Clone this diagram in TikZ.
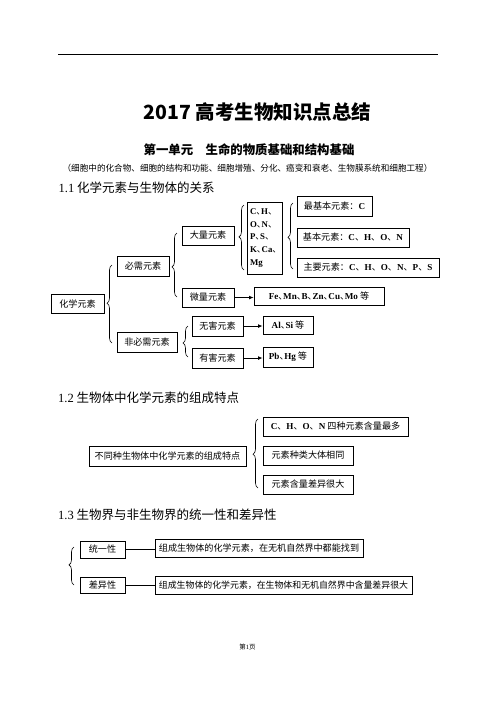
\documentclass[tikz,border=0pt]{standalone}
\usepackage{fontspec}
\setmainfont{Liberation Serif}
\newfontfamily\cjk{Noto Sans CJK SC}
\usetikzlibrary{decorations.pathreplacing,arrows.meta}
\newcommand\en[1]{{\rmfamily\bfseries #1}}
\newcommand\dunhao{\makebox[4.8pt][l]{、}}
\begin{document}
\begin{tikzpicture}[x=1pt,y=-1pt,
  box/.style={draw, line width=0.7pt, inner sep=0pt, font=\cjk\fontsize{9.1}{11}\selectfont},
  plain/.style={inner sep=0pt},
  heading/.style={inner sep=0pt, anchor=west, font=\cjk\fontsize{12.5}{14}\selectfont},
  br/.style={decorate, decoration={brace, amplitude=5pt, aspect=#1}, line width=0.6pt},
  br/.default=0.5,
  conn/.style={line width=0.8pt},
  arr/.style={line width=0.9pt, -{Latex[length=4.5pt,width=3.8pt]}}]
\fill[white] (0,0) rectangle (496,702);
\path[use as bounding box] (0,0) rectangle (496,702);
% header rule
\coordinate (rl) at (58,54);
\coordinate (rr) at (438,54);
\draw[line width=0.8pt] (rl) -- (rr);
% titles
\node[plain, font=\cjk\bfseries\fontsize{19.5}{22}\selectfont] (title) at (257.5,112) {2017 高考生物知识点总结};
\node[plain, font=\cjk\bfseries\fontsize{12.4}{14}\selectfont] (sub) at (249,150) {第一单元\hspace{12.4pt}生命的物质基础和结构基础};
\node[plain, font=\cjk\fontsize{8.6}{10}\selectfont] (paren) at (247.5,168) {（细胞中的化合物、细胞的结构和功能、细胞增殖、分化、癌变和衰老、生物膜系统和细胞工程）};
\node[heading] (h1) at (58.5,188) {{\rmfamily 1.1} 化学元素与生物体的关系};
\node[heading] (h2) at (58,398) {{\rmfamily 1.2} 生物体中化学元素的组成特点};
\node[heading] (h3) at (58,515) {{\rmfamily 1.3} 生物界与非生物界的统一性和差异性};
% section 1.1
\node[box, minimum width=53pt, minimum height=19pt] (hx) at (77.5,303.5) {化学元素};
\node[box, minimum width=52pt, minimum height=20pt] (bx) at (143,266) {必需元素};
\node[box, minimum width=60pt, minimum height=20pt] (fb) at (147,342) {非必需元素};
\node[box, minimum width=52pt, minimum height=19pt] (dl) at (208,235.5) {大量元素};
\node[box, minimum width=52pt, minimum height=19pt] (wl) at (208,297.5) {微量元素};
\node[box, minimum width=51pt, minimum height=20pt] (wh) at (217.5,326) {无害元素};
\node[box, minimum width=51pt, minimum height=20pt] (yh) at (217.5,358) {有害元素};
\node[box, minimum width=35pt, minimum height=72pt, text width=29pt, align=left, font=\cjk\fontsize{8.8}{12.9}\selectfont] (ch) at (264.5,238)
  {\en{C}\dunhao\en{H}\dunhao\\ \en{O}\dunhao\en{N}\dunhao\\ \en{P}\dunhao\en{S}\dunhao\\ \en{K}\dunhao\en{Ca}\dunhao\\ \en{Mg}};
\node[box, minimum width=75pt, minimum height=20pt] (zj) at (334.5,206) {最基本元素：\en{C}};
\node[box, minimum width=112pt, minimum height=19pt] (jb) at (353,237.5) {基本元素：\en{C}、\en{H}、\en{O}、\en{N}};
\node[box, minimum width=142pt, minimum height=19pt] (zy) at (368,267.5) {主要元素：\en{C}、\en{H}、\en{O}、\en{N}、\en{P}、\en{S}};
\node[box, minimum width=130pt, minimum height=18pt] (fe) at (319,296) {\en{Fe}\dunhao\en{Mn}\dunhao\en{B}\dunhao\en{Zn}\dunhao\en{Cu}\dunhao\en{Mo} 等};
\node[box, minimum width=50pt, minimum height=18pt] (al) at (288,325) {\en{Al}\dunhao\en{Si} 等};
\node[box, minimum width=50pt, minimum height=20pt] (pb) at (288,357) {\en{Pb}\dunhao\en{Hg} 等};
% braces 1.1
\coordinate (b1s) at (112,343); \coordinate (b1e) at (112,265);
\draw[br=0.51] (b1s) -- (b1e);
\coordinate (b2s) at (177,297); \coordinate (b2e) at (177,233);
\draw[br=0.47] (b2s) -- (b2e);
\coordinate (b3s) at (188,357); \coordinate (b3e) at (188,326);
\draw[br=0.45] (b3s) -- (b3e);
\coordinate (b4s) at (244,270); \coordinate (b4e) at (244,205);
\draw[br=0.51] (b4s) -- (b4e);
\coordinate (b5s) at (293,269); \coordinate (b5e) at (293,203);
\draw[br=0.48] (b5s) -- (b5e);
% arrows 1.1
\draw[arr] (wl.east) -- (wl.east -| fe.west);
\draw[arr] (wh.east) -- (wh.east -| al.west);
\draw[arr] (yh.east) -- (yh.east -| pb.west);
% section 1.2
\node[box, minimum width=157pt, minimum height=20pt] (bt) at (167.5,456) {不同种生物体中化学元素的组成特点};
\node[box, minimum width=145pt, minimum height=19pt] (c1) at (335.5,426.5) {\en{C}、\en{H}、\en{O}、\en{N} 四种元素含量最多};
\node[box, minimum width=90pt, minimum height=19pt] (c2) at (308,455.5) {元素种类大体相同};
\node[box, minimum width=90pt, minimum height=19pt] (c3) at (308,484.5) {元素含量差异很大};
\coordinate (b6s) at (258,488); \coordinate (b6e) at (258,419);
\draw[br=0.49] (b6s) -- (b6e);
% section 1.3
\node[box, minimum width=45pt, minimum height=17pt] (ty) at (102.5,549.5) {统一性};
\node[box, minimum width=45pt, minimum height=16pt] (cy) at (102.5,585) {差异性};
\node[box, minimum width=208pt, minimum height=18pt] (t1) at (259,548) {组成生物体的化学元素，在无机自然界中都能找到};
\node[box, minimum width=257pt, minimum height=18pt, font=\cjk\fontsize{8.9}{11}\selectfont] (t2) at (283.5,585) {组成生物体的化学元素，在生物体和无机自然界中含量差异很大};
\coordinate (b7s) at (74,585); \coordinate (b7e) at (74,547);
\draw[br=0.53] (b7s) -- (b7e);
\draw[conn] (ty.east) -- (ty.east -| t1.west);
\draw[conn] (cy.east) -- (cy.east -| t2.west);
% footer
\node[plain, font=\cjk\fontsize{6.5}{8}\selectfont] (foot) at (247.5,647) {第{\rmfamily 1}页};
\end{tikzpicture}
\end{document}
